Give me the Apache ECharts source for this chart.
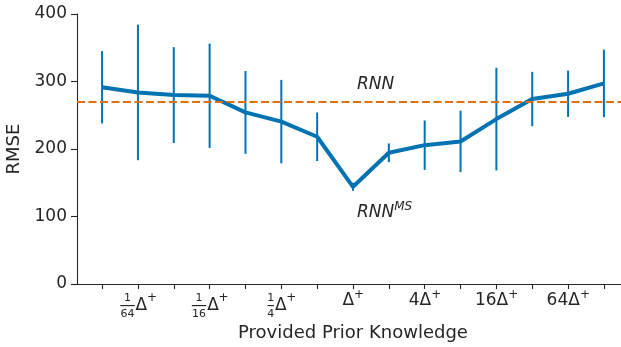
<!DOCTYPE html>
<html>
<head>
<meta charset="utf-8">
<script src="https://cdn.jsdelivr.net/npm/echarts@6/dist/echarts.min.js"></script>
<style>
  html, body { margin: 0; padding: 0; background: #ffffff; }
  #chart { width: 621px; height: 347px; }
</style>
</head>
<body>
<div id="chart"></div>
<script>
// RMSE of RNN^MS as the provided prior knowledge is scaled (positions 0..14)
const positions = [0, 1, 2, 3, 4, 5, 6, 7, 8, 9, 10, 11, 12, 13, 14];
const rmse    = [291.5, 283.8, 279.9, 278.9, 254.2, 240.6, 218.1, 144.0, 194.4, 205.7, 211.2, 244.3, 274.0, 281.9, 297.2];
const rmseStd = [53.6, 100.4, 71.0, 77.3, 61.4, 61.8, 36.0, 6.0, 13.8, 36.6, 45.5, 76.0, 40.3, 34.3, 50.0];
// Plain RNN reference level
const rnnBaseline = 270;
// Labelled ticks and their multipliers of Delta+
const tickPositions = [1, 3, 5, 7, 9, 11, 13];
const tickLabels = ['1/64', '1/16', '1/4', '1', '4', '16', '64'];

const BLUE = '#0173b2';
const ORANGE = '#e0700e';
const INK = '#262626';
const FONT = 'DejaVu Sans';

// Builds "m Δ+" labels: the "+" sits on a raised first line,
// fractions are stacked numerator / bar / denominator
function priorLabel(v) {
  const i = tickPositions.indexOf(Math.round(v));
  if (i < 0) return '';
  const m = tickLabels[i];
  if (m.indexOf('/') >= 0) {
    const parts = m.split('/');
    const w = parts[1].length > 1 ? 'w2' : 'w1';
    const bar = parts[1].length > 1 ? '\u2014' : '\u2013';
    return '{n' + w + '|' + parts[0] + '}{gd|\u00a0}{sf|+}\n' +
           '{b' + w + '|' + bar + '}{d|Δ}{gs|\u00a0}\n' +
           '{n' + w + '|' + parts[1] + '}{gap|\u00a0}';
  }
  const coef = m === '1' ? '' : m;
  const k = 'k' + coef.length;
  return '{g' + k + '|\u00a0}{sp|+}\n{t' + k + '|' + coef + 'Δ}{gs|\u00a0}';
}

const chart = echarts.init(document.getElementById('chart'), null, { renderer: 'canvas' });

chart.setOption({
  animation: false,
  backgroundColor: '#ffffff',
  textStyle: { fontFamily: FONT, color: INK },
  grid: { left: 77, right: -8, top: 14, bottom: 63, containLabel: false, outerBoundsMode: 'none' },
  xAxis: {
    type: 'value',
    min: -0.7,
    max: 14.7,
    name: 'Provided Prior Knowledge',
    nameLocation: 'middle',
    nameGap: 39,
    nameTextStyle: { fontFamily: FONT, fontSize: 18, color: INK },
    axisLine: { show: true, onZero: false, lineStyle: { color: INK, width: 1.1 } },
    axisTick: { show: true, length: 5, lineStyle: { color: INK, width: 1.1 }, customValues: positions },
    splitLine: { show: false },
    axisLabel: {
      customValues: tickPositions,
      margin: 9,
      verticalAlign: 'top',
      align: 'center',
      color: INK,
      fontFamily: FONT,
      formatter: priorLabel,
      rich: {
        nw2: { fontFamily: FONT, fontSize: 11, lineHeight: 10, width: 16, align: 'center', color: INK },
        nw1: { fontFamily: FONT, fontSize: 11, lineHeight: 10, width: 8, align: 'center', color: INK },
        bw2: { fontFamily: FONT, fontSize: 16, lineHeight: 6, width: 16, align: 'center', color: INK },
        bw1: { fontFamily: FONT, fontSize: 16, lineHeight: 6, width: 8, align: 'center', color: INK },
        gd: { fontSize: 2, width: 12 },
        gs: { fontSize: 2, width: 9 },
        gap: { fontSize: 2, width: 21 },
        sf: { fontFamily: FONT, fontSize: 12, lineHeight: 10, width: 9, align: 'left', color: INK },
        d: { fontFamily: FONT, fontSize: 17, lineHeight: 6, width: 12, align: 'left', color: INK },
        sp: { fontFamily: FONT, fontSize: 12, lineHeight: 4, width: 9, align: 'left', color: INK },
        gk0: { fontSize: 2, width: 12 },
        gk1: { fontSize: 2, width: 23 },
        gk2: { fontSize: 2, width: 34 },
        tk0: { fontFamily: FONT, fontSize: 17, lineHeight: 8, width: 12, align: 'left', color: INK },
        tk1: { fontFamily: FONT, fontSize: 17, lineHeight: 8, width: 23, align: 'left', color: INK },
        tk2: { fontFamily: FONT, fontSize: 17, lineHeight: 8, width: 34, align: 'left', color: INK }
      }
    }
  },
  yAxis: {
    type: 'value',
    min: 0,
    max: 400,
    interval: 100,
    name: 'RMSE',
    nameLocation: 'middle',
    nameGap: 50,
    nameTextStyle: { fontFamily: FONT, fontSize: 18, color: INK },
    axisLine: { show: true, onZero: false, lineStyle: { color: INK, width: 1.1 } },
    axisTick: { show: true, length: 6, lineStyle: { color: INK, width: 1.1 } },
    splitLine: { show: false },
    axisLabel: { margin: 10, fontFamily: FONT, fontSize: 17, color: INK }
  },
  series: [
    {
      // standard-deviation bars
      type: 'custom',
      z: 1,
      silent: true,
      data: positions.map((x, i) => [x, rmse[i] - rmseStd[i], rmse[i] + rmseStd[i]]),
      encode: { x: 0, y: [1, 2] },
      renderItem: function (params, api) {
        const lo = api.coord([api.value(0), api.value(1)]);
        const hi = api.coord([api.value(0), api.value(2)]);
        return {
          type: 'line',
          shape: { x1: lo[0], y1: lo[1], x2: hi[0], y2: hi[1] },
          style: { stroke: BLUE, lineWidth: 2 }
        };
      }
    },
    {
      type: 'line',
      z: 3,
      data: positions.map((x, i) => [x, rmse[i]]),
      showSymbol: false,
      symbol: 'none',
      lineStyle: { color: BLUE, width: 4, join: 'round' },
      silent: true,
      markLine: {
        silent: true,
        symbol: ['none', 'none'],
        label: { show: false },
        lineStyle: { color: ORANGE, width: 2, type: [8, 3.5] },
        data: [{ yAxis: rnnBaseline }]
      },
      markPoint: {
        silent: true,
        symbol: 'circle',
        symbolSize: 0,
        data: [
          {
            coord: [7.11, 296],
            label: {
              show: true, position: [0, 0], align: 'left', verticalAlign: 'middle',
              formatter: 'RNN',
              fontFamily: FONT, fontStyle: 'italic', fontSize: 17, color: INK
            }
          },
          {
            coord: [7.11, 108.5],
            label: {
              show: true, position: [0, 0], align: 'left', verticalAlign: 'middle',
              formatter: '{a|RNN}{b|MS}',
              rich: {
                a: { fontFamily: FONT, fontStyle: 'italic', fontSize: 17, lineHeight: 20, verticalAlign: 'bottom', color: INK },
                b: { fontFamily: FONT, fontStyle: 'italic', fontSize: 12, lineHeight: 12, padding: [0, 0, 16, 0], verticalAlign: 'top', color: INK }
              }
            }
          }
        ]
      }
    }
  ]
});
</script>
</body>
</html>
